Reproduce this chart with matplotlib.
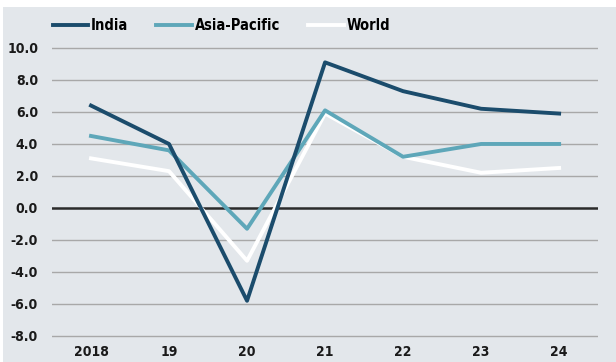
import matplotlib.pyplot as plt
import numpy as np
from matplotlib.patches import Rectangle

years = ["2018", "19", "20", "21", "22", "23", "24"]
india = [6.4, 4.0, -5.8, 9.1, 7.3, 6.2, 5.9]
asia_pacific = [4.5, 3.6, -1.3, 6.1, 3.2, 4.0, 4.0]
world = [3.1, 2.3, -3.3, 5.9, 3.2, 2.2, 2.5]
yticks = [-8.0, -6.0, -4.0, -2.0, 0.0, 2.0, 4.0, 6.0, 8.0, 10.0]

bg = "#e3e7eb"
font = ["DejaVu Sans"]
W, H = 616, 362

fig = plt.figure(figsize=(W / 100, H / 100), dpi=100, facecolor="white")
# grey panel, with a thin white strip left along the top and left edges
fig.patches.append(Rectangle((3 / W, 0), 1 - 3 / W, 1 - 7 / H, transform=fig.transFigure,
                             facecolor=bg, edgecolor="none", zorder=-1))
ax = fig.add_axes([0.0844, 0.0586, 0.8866, 0.831], facecolor=bg)

x = np.arange(len(years))
for yv in yticks:
    if yv == 0:
        ax.axhline(yv, color="#2b2b2b", lw=1.8, zorder=1)
    else:
        ax.axhline(yv, color="#a8a8a8", lw=1.0, zorder=1)

ax.plot(x, world, color="white", lw=2.8, label="World", zorder=2)
ax.plot(x, asia_pacific, color="#5ea7b9", lw=2.8, label="Asia-Pacific", zorder=3)
ax.plot(x, india, color="#1b4c6c", lw=2.8, label="India", zorder=4)

ax.set_xlim(-0.5, 6.5)
ax.set_ylim(-8.3, 10.5)
ax.set_xticks(x)
ax.set_xticklabels(years)
ax.set_yticks(yticks)
ax.set_yticklabels([f"{v:.1f}" for v in yticks])
ax.tick_params(axis="y", length=0, labelsize=10, pad=10)
ax.tick_params(axis="x", length=0, labelsize=10, pad=3)
for lbl in ax.get_xticklabels() + ax.get_yticklabels():
    lbl.set_family(font)
    lbl.set_fontweight("bold")
    lbl.set_fontstretch("condensed")
    lbl.set_color("#1a1a1a")
for s in ax.spines.values():
    s.set_visible(False)

handles, labels = ax.get_legend_handles_labels()
order = [2, 1, 0]
leg = fig.legend([handles[i] for i in order], [labels[i] for i in order],
                 loc="center left", bbox_to_anchor=(0.064, 0.93), ncol=3,
                 frameon=False, handlelength=2.45, handletextpad=0.2,
                 columnspacing=1.9,
                 prop={"family": font, "weight": "bold", "stretch": "condensed", "size": 10.5})

fig.savefig("out.png", dpi=100, facecolor="white")
